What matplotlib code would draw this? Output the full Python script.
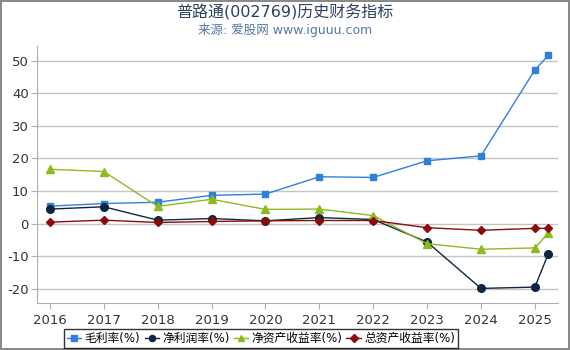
import matplotlib
matplotlib.use("Agg")
import matplotlib.pyplot as plt

plt.rcParams['font.family'] = ['DejaVu Sans', 'Noto Sans CJK SC']
plt.rcParams['axes.unicode_minus'] = False

# ── Data ──────────────────────────────────────────────────────────────────────
x_pos   = [2016, 2017, 2018, 2019, 2020, 2021, 2022, 2023, 2024, 2025, 2025.25]
years   = [2016, 2017, 2018, 2019, 2020, 2021, 2022, 2023, 2024, 2025]

gross_margin = [5.4, 6.2, 6.6, 8.7, 9.1, 14.4, 14.2, 19.3, 20.8, 47.1, 51.6]
net_margin   = [4.5, 5.2, 1.1, 1.6, 0.9, 1.9, 1.3, -5.6, -19.8, -19.4, -9.2]
roe          = [16.7, 16.0, 5.3, 7.5, 4.4, 4.5, 2.5, -6.1, -7.8, -7.4, -2.8]
roa          = [0.5, 1.1, 0.4, 0.7, 0.9, 1.0, 1.0, -1.2, -2.0, -1.4, -1.4]

series = [
    ("毛利率(%)",       gross_margin, "#2f80dc", "s", 5),
    ("净利润率(%)",     net_margin,   "#0f2640", "o", 5.5),
    ("净资产收益率(%)", roe,          "#8dbb1e", "^", 5.5),
    ("总资产收益率(%)", roa,          "#8b0a0a", "D", 4.5),
]

# ── Figure ────────────────────────────────────────────────────────────────────
fig = plt.figure(figsize=(5.7, 3.5), dpi=100)
fig.patch.set_edgecolor("#8a8a8a")
fig.patch.set_linewidth(1.5)

ax = fig.add_axes([0.065, 0.134, 0.914, 0.735])

for label, vals, color, marker, ms in series:
    ax.plot(x_pos, vals, color=color, marker=marker, markersize=ms,
            linewidth=1.0, label=label, zorder=3)

ax.set_xlim(2015.76, 2025.43)
ax.set_ylim(-24.3, 54.5)
ax.set_xticks(years)
ax.set_xticklabels([str(y) for y in years])
ax.set_yticks([-20, -10, 0, 10, 20, 30, 40, 50])

ax.grid(axis="y", color="#c4c4c4", linewidth=1.0)
ax.set_axisbelow(True)
for side in ["top", "right"]:
    ax.spines[side].set_visible(False)
ax.spines["left"].set_color("#b0b0b0")
ax.spines["bottom"].set_color("#b0b0b0")
ax.tick_params(axis="both", colors="#b0b0b0", labelcolor="#333333",
               labelsize=9.5, length=4)
ax.tick_params(axis="y", length=4, pad=2)

fig.text(0.5, 0.965, "普路通(002769)历史财务指标", ha="center", va="center",
         fontsize=11.5, color="#2b4160")
fig.text(0.5, 0.915, "来源: 爱股网 www.iguuu.com", ha="center", va="center",
         fontsize=9, color="#5577a0")

leg = fig.legend(loc="center", bbox_to_anchor=(0.458, 0.033), ncol=4,
                 fontsize=8.5, frameon=True, fancybox=False,
                 handlelength=1.2, handletextpad=0.3, columnspacing=0.35,
                 borderpad=0.25, borderaxespad=0.2, markerscale=0.8)
leg.get_frame().set_edgecolor("#000000")
leg.get_frame().set_linewidth(1.0)

fig.savefig("out.png", dpi=100)
